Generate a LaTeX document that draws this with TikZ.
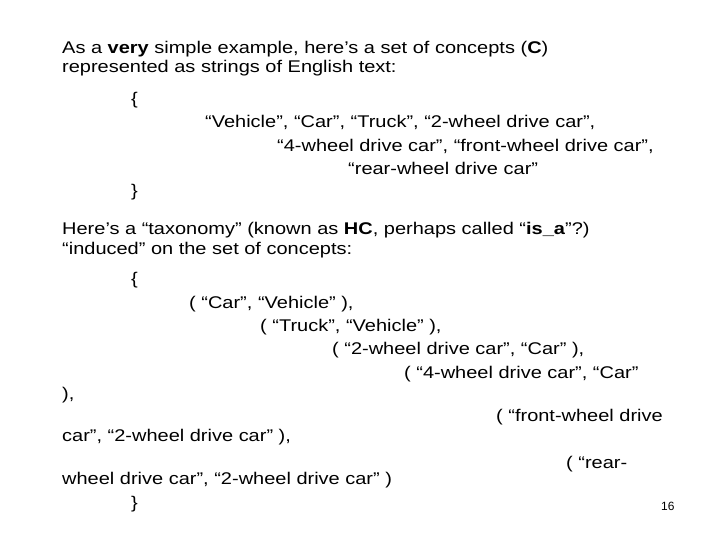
\documentclass[tikz,border=0pt]{standalone}
\usepackage{graphicx}
\usepackage{fontspec}
\setmainfont{Liberation Sans}
\newcommand{\widetxt}[1]{\scalebox{1.18}[1]{#1}}
\begin{document}
\begin{tikzpicture}[x=1bp,y=-1bp,t/.style={anchor=base west,inner sep=0pt,font=\fontsize{17}{20}\selectfont}]
\useasboundingbox (0,0) rectangle (720,540);
\node[t] (l1) at (62,54) {\widetxt{As a \textbf{very} simple example, here’s a set of concepts (\textbf{C})}};
\node[t] (l2) at (62,73) {\widetxt{represented as strings of English text:}};
\node[t] (l3) at (131,105) {\widetxt{\{}};
\node[t] (l4) at (205,128) {\widetxt{“Vehicle”, “Car”, “Truck”, “2-wheel drive car”,}};
\node[t] (l5) at (277,152) {\widetxt{“4-wheel drive car”, “front-wheel drive car”,}};
\node[t] (l6) at (348,175) {\widetxt{“rear-wheel drive car”}};
\node[t] (l7) at (131,197) {\widetxt{\}}};
\node[t] (l8) at (62,235) {\widetxt{Here’s a “taxonomy” (known as \textbf{HC}, perhaps called “\textbf{is\_a}”?)}};
\node[t] (l9) at (62,255) {\widetxt{“induced” on the set of concepts:}};
\node[t] (l10) at (131,285) {\widetxt{\{}};
\node[t] (l11) at (189,308) {\widetxt{( “Car”, “Vehicle” ),}};
\node[t] (l12) at (260,331) {\widetxt{( “Truck”, “Vehicle” ),}};
\node[t] (l13) at (332,354) {\widetxt{( “2-wheel drive car”, “Car” ),}};
\node[t] (l14) at (404,378) {\widetxt{( “4-wheel drive car”, “Car”}};
\node[t] (l15) at (62,399) {\widetxt{),}};
\node[t] (l16) at (496,421) {\widetxt{( “front-wheel drive}};
\node[t] (l17) at (62,441) {\widetxt{car”, “2-wheel drive car” ),}};
\node[t] (l18) at (566,468) {\widetxt{( “rear-}};
\node[t] (l19) at (62,484) {\widetxt{wheel drive car”, “2-wheel drive car” )}};
\node[t] (l20) at (131,508) {\widetxt{\}}};
\node[anchor=base west,inner sep=0pt,font=\fontsize{12}{14}\selectfont] (pg) at (661,510) {16};
\end{tikzpicture}
\end{document}
